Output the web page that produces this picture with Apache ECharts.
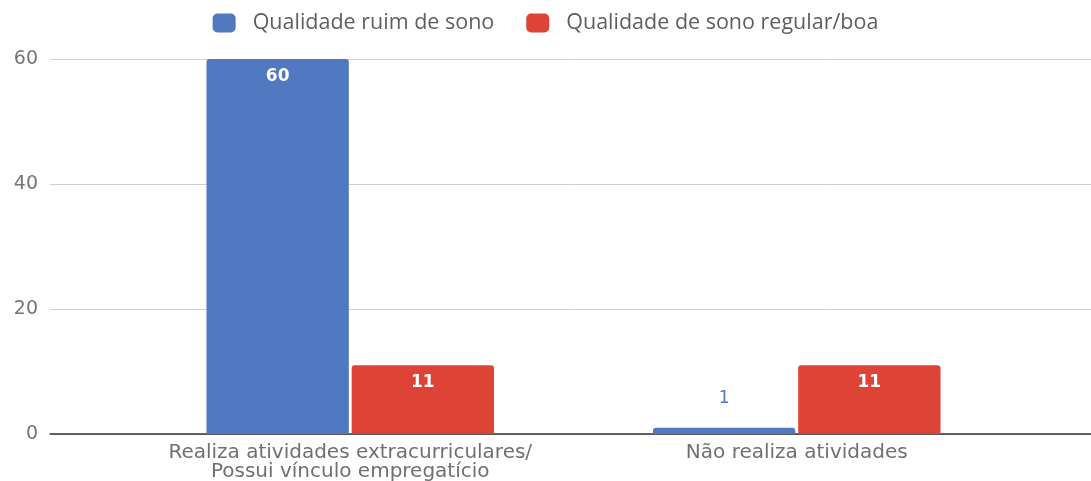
<!DOCTYPE html>
<html><head><meta charset="utf-8">
<script src="https://cdn.jsdelivr.net/npm/echarts@6/dist/echarts.min.js"></script>
<style>html,body{margin:0;padding:0;background:#fff}#c{width:1091px;height:481px}</style>
</head><body><div id="c"></div>
<script>
const categories = ['Realiza atividades extracurriculares/\nPossui vínculo empregatício', 'Não realiza atividades'];
const seriesNames = ['Qualidade ruim de sono', 'Qualidade de sono regular/boa'];
const poorSleep = [60, 1];
const goodSleep = [11, 11];
const yTicks = { min: 0, max: 60, interval: 20 };

const colors = ['#5079c2', '#dd4436'];
const wide = 'DejaVu Sans';

function toData(vals, color) {
  return vals.map(v => v < 5
    ? { value: v, label: { position: 'top', distance: 21, color: color, fontWeight: 'normal' } }
    : { value: v });
}

const chart = echarts.init(document.getElementById('c'), null, { renderer: 'canvas' });
chart.setOption({
  animation: false,
  color: colors,
  legend: {
    top: 7, left: 'center', itemWidth: 23, itemHeight: 19, itemGap: 32,
    icon: 'roundRect',
    textStyle: { fontFamily: 'Open Sans', fontSize: 21.5, color: '#5f5f5f', padding: [0, 0, 0, 12] },
    data: seriesNames
  },
  grid: [
    { left: 50, right: 0, top: 59, bottom: 47, outerBoundsMode: 'none', containLabel: false },
    { left: 127, right: 71, top: 59, bottom: 47, outerBoundsMode: 'none', containLabel: false }
  ],
  xAxis: [
    { gridIndex: 0, type: 'category', data: [''], axisTick: { show: false }, axisLabel: { show: false },
      axisLine: { show: true, lineStyle: { color: '#333', width: 1.5 } } },
    { gridIndex: 1, type: 'category', data: categories, axisTick: { show: false },
      axisLine: { show: false },
      axisLabel: { fontFamily: wide, fontSize: 20, color: '#707070', lineHeight: 19, margin: 9, interval: 0 } }
  ],
  yAxis: [
    { gridIndex: 0, type: 'value', min: yTicks.min, max: yTicks.max, interval: yTicks.interval,
      axisLine: { show: false }, axisTick: { show: false },
      splitLine: { lineStyle: { color: '#cfcfcf', width: 1 } },
      axisLabel: { fontFamily: wide, fontSize: 19, color: '#757575', margin: 12 } },
    { gridIndex: 1, type: 'value', min: yTicks.min, max: yTicks.max, interval: yTicks.interval, show: false }
  ],
  series: [
    { name: seriesNames[0], type: 'bar', xAxisIndex: 1, yAxisIndex: 1, data: toData(poorSleep, colors[0]),
      barCategoryGap: '35.6%', barGap: '2%',
      itemStyle: { borderRadius: [3, 3, 0, 0] },
      label: { show: true, position: 'insideTop', distance: 9, color: '#fff', fontFamily: wide, fontSize: 17, fontWeight: 'bold' } },
    { name: seriesNames[1], type: 'bar', xAxisIndex: 1, yAxisIndex: 1, data: toData(goodSleep, colors[1]),
      barCategoryGap: '35.6%', barGap: '2%',
      itemStyle: { borderRadius: [3, 3, 0, 0] },
      label: { show: true, position: 'insideTop', distance: 9, color: '#fff', fontFamily: wide, fontSize: 17, fontWeight: 'bold' } }
  ]
});
</script></body></html>
